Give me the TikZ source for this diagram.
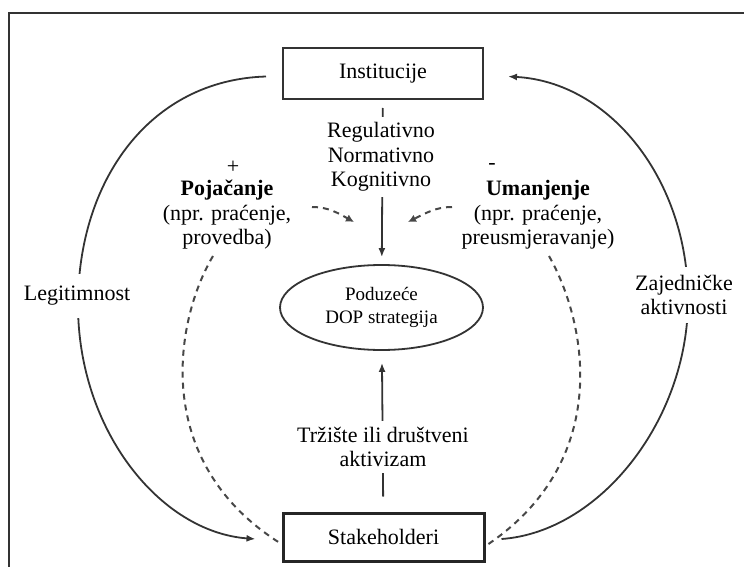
\documentclass[tikz,border=0pt]{standalone}
\usepackage{fontspec}
\setmainfont{Liberation Serif}
\usetikzlibrary{arrows.meta,shapes.geometric}
\definecolor{ink}{HTML}{333333}
\tikzset{
  base/.style={font=\fontsize{22}{24.5}\selectfont, align=center, text=black},
  boxnode/.style={base, draw=ink, rectangle, inner sep=0pt},
  lbl/.style={base, fill=white, inner sep=3pt},
  flow/.style={draw=ink, line width=1.8pt, -{Latex[length=9pt,width=7pt]}},
  link/.style={draw=ink, line width=1.8pt},
  hint/.style={draw=ink!90, line width=2pt, dash pattern=on 6pt off 5pt},
  hintarr/.style={hint, -{Latex[length=8pt,width=8pt]}}
}
\begin{document}
\begin{tikzpicture}[x=1pt,y=-1pt]
\useasboundingbox (0,0) rectangle (744,567);
% outer frame
\draw[ink, line width=1.5pt] (9,580) -- (9,13) -- (760,13);

% main nodes
\node[boxnode, line width=2pt, minimum width=200pt, minimum height=51pt] (inst) at (383,73.5) {Institucije};
\node[boxnode, line width=3pt, draw=black!85, minimum width=201pt, minimum height=48pt] (stake) at (383.5,537) {Stakeholderi};
\node[draw=ink, line width=1.8pt, ellipse, minimum width=203pt, minimum height=85pt, inner sep=0pt,
      align=center, font=\fontsize{19}{23}\selectfont] (ell) at (381.5,307.5) {Poduzeće\\DOP strategija};

% vertical influences
\draw[flow, shorten <=8pt, shorten >=7pt] (inst) -- (ell);
\draw[flow, shorten <=15pt, shorten >=12pt] (stake) -- (ell);
\node[lbl, inner ysep=5pt] (reg) at (381,157) {Regulativno\\Normativno\\Kognitivno};
\node[lbl, inner ysep=6pt] (mkt) at (383,447) {Tržište ili društveni\\aktivizam};

% outer loop
\coordinate (lw) at (78,305);
\coordinate (re) at (688,300);
\draw[link] ([yshift=-3pt]inst.west) ++(-16,0) coordinate (l0)
  .. controls (150,80) and (78,180) .. (lw);
\draw[flow] (lw) .. controls (78,430) and (160,532) .. ([xshift=-26pt,yshift=-2pt]stake.west);
\draw[link] ([xshift=16pt,yshift=-2pt]stake.east) .. controls (600,532) and (688,420) .. (re);
\draw[flow] (re) .. controls (688,180) and (610,82) .. ([xshift=24pt,yshift=-3pt]inst.east);
\node[lbl, inner xsep=2pt, inner ysep=12pt] (leg) at (77,296) {Legitimnost};
\node[lbl, inner xsep=2pt, inner ysep=8pt] (zaj) at (684,295) {Zajedničke\\aktivnosti};

% reinforcing / weakening paths
\coordinate (pl) at (213,256);
\coordinate (pr) at (549,256);
\draw[hint] (pl) .. controls (175,320) and (150,462) .. ([yshift=-7pt]stake.west);
\draw[hint] (pr) .. controls (588,325) and (612,462) .. ([yshift=-9pt]stake.east);
\coordinate (al) at (312,207);
\coordinate (ar) at (452,207);
\draw[hintarr] (al) .. controls (328,207) and (338,213) .. (354,222);
\draw[hintarr] (ar) .. controls (436,207) and (426,213) .. (408,222);

% side labels
\node[base, inner sep=0pt] (plus) at (233,167) {+};
\node[base, inner sep=0pt] (pos) at (227,215) {\textbf{Pojačanje}\\(npr. praćenje,\\provedba)};
\node[base, inner sep=0pt] (minus) at (492,166) {-};
\node[base, inner sep=0pt] (neg) at (538,215) {\textbf{Umanjenje}\\(npr. praćenje,\\preusmjeravanje)};
\end{tikzpicture}
\end{document}
